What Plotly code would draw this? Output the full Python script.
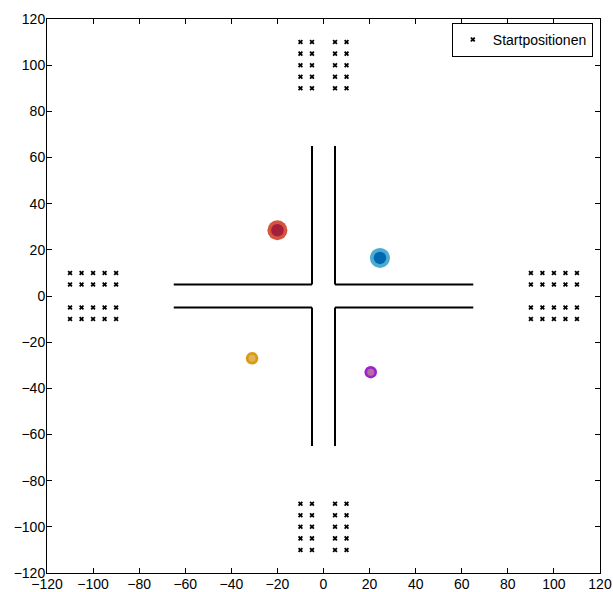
import plotly.graph_objects as go

# Start positions
top_x = [-10, -5, 5, 10]
top_y = [90, 95, 100, 105, 110]
bottom_y = [-90, -95, -100, -105, -110]
left_x = [-110, -105, -100, -95, -90]
right_x = [90, 95, 100, 105, 110]
side_y = [-10, -5, 5, 10]

# Road segments (x pairs, y pairs)
road_x = [[-5, -5], [5, 5], [-5, -5], [5, 5], [-65, -5], [5, 65], [-65, -5], [5, 65]]
road_y = [[5, 65], [5, 65], [-65, -5], [-65, -5], [5, 5], [5, 5], [-5, -5], [-5, -5]]

# Vehicles
veh_x = [-20, 24.5, -31, 20.5]
veh_y = [28.5, 16.5, -27, -33]
veh_outer = ["#d4553e", "#4daad2", "#d99a14", "#9c24c9"]
veh_inner = ["#a41e3e", "#0068b1", "#e1b25a", "#b66fa6"]
veh_size_outer = [20, 20, 12.5, 12.5]
veh_size_inner = [12.5, 12.5, 7, 7]

sx, sy = [], []
for x in top_x:
    for y in top_y + bottom_y:
        sx.append(x); sy.append(y)
for x in left_x + right_x:
    for y in side_y:
        sx.append(x); sy.append(y)

fig = go.Figure()
for rx, ry in zip(road_x, road_y):
    fig.add_trace(go.Scatter(x=rx, y=ry, mode="lines", line=dict(color="black", width=2), showlegend=False, hoverinfo="skip"))

fig.add_trace(go.Scatter(x=sx, y=sy, mode="markers", name="Startpositionen",
                         marker=dict(symbol="x", size=4.5, color="black")))

for i in range(len(veh_x)):
    fig.add_trace(go.Scatter(x=[veh_x[i]], y=[veh_y[i]], mode="markers", showlegend=False,
                             marker=dict(size=veh_size_outer[i], color=veh_outer[i], line=dict(width=0))))
    fig.add_trace(go.Scatter(x=[veh_x[i]], y=[veh_y[i]], mode="markers", showlegend=False,
                             marker=dict(size=veh_size_inner[i], color=veh_inner[i], line=dict(width=0))))

axis_common = dict(range=[-120, 120], dtick=20, showgrid=False, zeroline=False,
                   showline=True, linecolor="black", linewidth=1, mirror="ticks",
                   ticks="inside", ticklen=5, tickcolor="black", automargin=False,
                   tickfont=dict(family="Liberation Sans, Arial", size=14, color="black"))

fig.update_layout(
    width=613, height=592,
    margin=dict(l=47, r=13, t=19, b=19),
    paper_bgcolor="white", plot_bgcolor="white",
    xaxis=dict(**axis_common, ticklabelstandoff=-2),
    yaxis=dict(**axis_common, ticklabelstandoff=-2),
    legend=dict(x=0.987, y=0.993, xanchor="right", yanchor="top",
                bordercolor="black", borderwidth=1, bgcolor="white",
                font=dict(family="Liberation Sans, Arial", size=14, color="black"),
                tracegroupgap=0),
    showlegend=True,
)

fig.write_html("out.html", config={"displayModeBar": False},
               post_script="document.body.style.margin='0';document.documentElement.style.overflow='hidden';")
